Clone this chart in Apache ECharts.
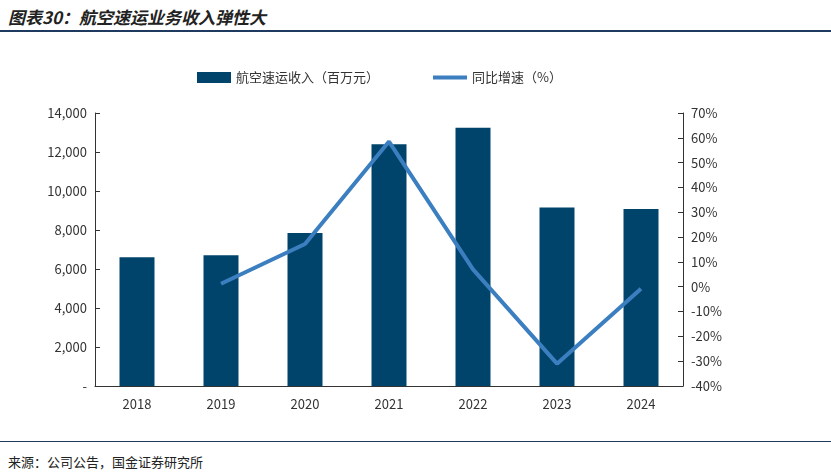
<!DOCTYPE html>
<html><head><meta charset="utf-8">
<script src="https://cdn.jsdelivr.net/npm/echarts@6/dist/echarts.min.js"></script>
<style>
body{margin:0;background:#fff;font-family:"Noto Sans CJK SC",sans-serif;}
#title{position:absolute;left:8px;top:4px;font-size:17px;font-weight:bold;font-style:italic;color:#222;}
#tline{position:absolute;left:0;top:30px;width:831px;border-top:2px solid #1f3a5f;}
#chart{position:absolute;left:0;top:40px;width:831px;height:395px;}
#bline{position:absolute;left:0;top:441px;width:831px;border-top:1px solid #1f3a5f;}
#src{position:absolute;left:8px;top:452px;font-size:13px;color:#222;}
</style></head><body>
<div id="title">图表30：航空速运业务收入弹性大</div>
<div id="tline"></div>
<div id="chart"></div>
<div id="bline"></div>
<div id="src">来源：公司公告，国金证券研究所</div>
<script>
var years = ['2018','2019','2020','2021','2022','2023','2024'];
var revenue = [6600, 6700, 7850, 12400, 13250, 9150, 9080];
var growth = [null, 1.2, 17.2, 58.5, 7.0, -31.0, -0.8];

var chart = echarts.init(document.getElementById('chart'));
chart.setOption({
    animation: false,
    textStyle: {fontFamily: 'Noto Sans CJK SC'},
    legend: [{
        top: 26, left: 192, icon: 'rect', itemWidth: 34, itemHeight: 11,
        textStyle: {color: '#333', fontSize: 13},
        data: ['航空速运收入（百万元）']
    }, {
        top: 26, left: 428, icon: 'rect', itemWidth: 34, itemHeight: 4,
        textStyle: {color: '#333', fontSize: 13},
        data: ['同比增速（%）']
    }],
    grid: {left: 95, right: 148, top: 73, bottom: 49},
    xAxis: {
        type: 'category', data: years,
        axisLine: {lineStyle: {color: '#333'}},
        axisTick: {show: false},
        axisLabel: {color: '#333', fontSize: 13, margin: 12}
    },
    yAxis: [{
        type: 'value', min: 0, max: 14000, interval: 2000,
        splitLine: {show: false},
        axisLine: {show: true, lineStyle: {color: '#333'}},
        axisTick: {show: true, inside: true},
        axisLabel: {color: '#333', fontSize: 13, formatter: function (v) {
            return v === 0 ? '-' : v.toLocaleString('en-US');
        }}
    }, {
        type: 'value', min: -40, max: 70, interval: 10,
        splitLine: {show: false},
        axisLine: {show: true, lineStyle: {color: '#333'}},
        axisTick: {show: true, inside: true},
        axisLabel: {color: '#333', fontSize: 13, formatter: '{value}%'}
    }],
    series: [{
        name: '航空速运收入（百万元）', type: 'bar', data: revenue,
        barWidth: 35, itemStyle: {color: '#00446b'}
    }, {
        name: '同比增速（%）', type: 'line', yAxisIndex: 1, data: growth,
        symbol: 'none', lineStyle: {color: '#3c7fc0', width: 4},
        itemStyle: {color: '#3c7fc0'}
    }]
});
</script>
</body></html>
